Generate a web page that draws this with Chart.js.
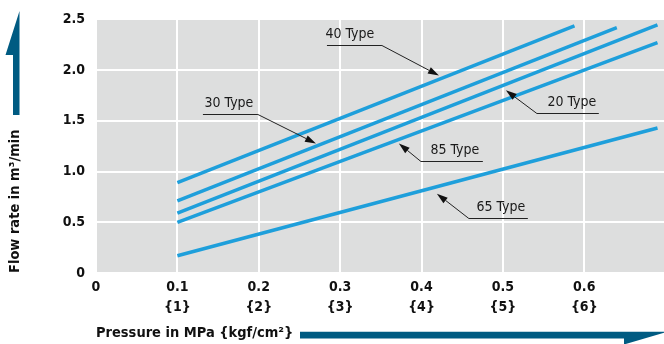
<!DOCTYPE html>
<html>
<head>
<meta charset="utf-8">
<script src="https://cdn.jsdelivr.net/npm/chart.js@4/dist/chart.umd.min.js"></script>
<style>
  html, body { margin: 0; padding: 0; background: #ffffff; }
  #wrap { width: 664px; height: 344px; }
</style>
</head>
<body>
<div id="wrap"><canvas id="c" width="664" height="344"></canvas></div>
<script>
// ---- data ----
const seriesNames = ['40 Type', '30 Type', '20 Type', '85 Type', '65 Type'];
const type40X = [0.1, 0.588];
const type40Y = [0.89, 2.435];
const type30X = [0.1, 0.640];
const type30Y = [0.71, 2.42];
const type20X = [0.1, 0.690];
const type20Y = [0.59, 2.445];
const type85X = [0.1, 0.690];
const type85Y = [0.50, 2.27];
const type65X = [0.1, 0.690];
const type65Y = [0.17, 1.43];

const xTickValues = [0, 0.1, 0.2, 0.3, 0.4, 0.5, 0.6];
const xTickLabels = [['0'], ['0.1', '{1}'], ['0.2', '{2}'], ['0.3', '{3}'], ['0.4', '{4}'], ['0.5', '{5}'], ['0.6', '{6}']];
const yTickLabels = ['0', '0.5', '1.0', '1.5', '2.0', '2.5'];

// callout annotations (data coordinates)
const calloutText   = ['40 Type', '30 Type', '20 Type', '85 Type', '65 Type'];
const calloutTextX  = [0.312, 0.1634, 0.5848, 0.441, 0.4975];
const calloutLineX1 = [0.2838, 0.1314, 0.5418, 0.3993, 0.4582];
const calloutLineX2 = [0.3514, 0.1990, 0.6179, 0.4754, 0.5307];
const calloutLineY  = [2.2476, 1.568, 1.578, 1.102, 0.539];
const calloutStartX = [0.3514, 0.1990, 0.5418, 0.3993, 0.4582];
const calloutTipX   = [0.4214, 0.2703, 0.5037, 0.3722, 0.4189];
const calloutTipY   = [1.9466, 1.277, 1.801, 1.277, 0.782];

const xTitle = 'Pressure in MPa {kgf/cm\u00B2}';
const yTitle = 'Flow rate in m\u00B3/min';

// ---- styles ----
const LINE_COLOR = '#1e9fdb';
const PLOT_BG = '#dddede';
const ARROW_COLOR = '#005b82';
const FONT = '"DejaVu Sans Condensed", "Liberation Sans", sans-serif';

function pts(xs, ys) { return xs.map((x, i) => ({ x: x, y: ys[i] })); }
const allX = [type40X, type30X, type20X, type85X, type65X];
const allY = [type40Y, type30Y, type20Y, type85Y, type65Y];

const datasets = seriesNames.map((n, i) => ({
  label: n,
  data: pts(allX[i], allY[i]),
  borderColor: LINE_COLOR,
  backgroundColor: LINE_COLOR,
  borderWidth: 3.5,
  pointRadius: 0,
  tension: 0,
  fill: false,
  borderCapStyle: 'butt'
}));

const bgPlugin = {
  id: 'plotBg',
  beforeDraw(chart) {
    const { ctx, chartArea: a } = chart;
    ctx.save();
    ctx.fillStyle = PLOT_BG;
    ctx.fillRect(a.left, a.top, a.right - a.left, a.bottom - a.top);
    ctx.restore();
  }
};

const calloutPlugin = {
  id: 'callouts',
  afterDatasetsDraw(chart) {
    const { ctx } = chart;
    const xs = chart.scales.x, ys = chart.scales.y;
    ctx.save();
    for (let i = 0; i < calloutText.length; i++) {
      const lx1 = xs.getPixelForValue(calloutLineX1[i]);
      const lx2 = xs.getPixelForValue(calloutLineX2[i]);
      const ly = Math.round(ys.getPixelForValue(calloutLineY[i])) + 0.5;
      const sx = xs.getPixelForValue(calloutStartX[i]);
      const tx = xs.getPixelForValue(calloutTipX[i]);
      const ty = ys.getPixelForValue(calloutTipY[i]);
      ctx.strokeStyle = '#222222';
      ctx.lineWidth = 1;
      ctx.beginPath();
      ctx.moveTo(lx1, ly);
      ctx.lineTo(lx2, ly);
      ctx.stroke();
      const ang = Math.atan2(ty - ly, tx - sx);
      const headLen = 11, headW = 3.5;
      const bx = tx - headLen * Math.cos(ang), by = ty - headLen * Math.sin(ang);
      ctx.beginPath();
      ctx.moveTo(sx, ly);
      ctx.lineTo(bx, by);
      ctx.stroke();
      ctx.fillStyle = '#111111';
      ctx.beginPath();
      ctx.moveTo(tx, ty);
      ctx.lineTo(bx + headW * Math.sin(ang), by - headW * Math.cos(ang));
      ctx.lineTo(bx - headW * Math.sin(ang), by + headW * Math.cos(ang));
      ctx.closePath();
      ctx.fill();
      ctx.fillStyle = '#1a1a1a';
      ctx.font = '14px ' + FONT;
      ctx.textAlign = 'center';
      ctx.textBaseline = 'middle';
      ctx.fillText(calloutText[i], xs.getPixelForValue(calloutTextX[i]), ly - 11);
    }
    ctx.restore();
  }
};

const arrowPlugin = {
  id: 'axisArrows',
  afterDraw(chart) {
    const { ctx } = chart;
    ctx.save();
    ctx.fillStyle = ARROW_COLOR;
    // vertical arrow (y axis)
    ctx.beginPath();
    ctx.moveTo(13, 115);
    ctx.lineTo(13, 55);
    ctx.lineTo(5.5, 55);
    ctx.lineTo(19.5, 11);
    ctx.lineTo(19.5, 115);
    ctx.closePath();
    ctx.fill();
    // horizontal arrow (x axis): shaft with a one-sided head
    ctx.beginPath();
    ctx.moveTo(300, 331.7);
    ctx.lineTo(668, 331.7);
    ctx.lineTo(624, 344.5);
    ctx.lineTo(624, 338.4);
    ctx.lineTo(300, 338.4);
    ctx.closePath();
    ctx.fill();
    ctx.restore();
  }
};

new Chart(document.getElementById('c'), {
  type: 'line',
  data: { datasets: datasets },
  options: {
    responsive: false,
    animation: false,
    layout: { padding: { top: 15, right: 0, left: 0, bottom: 0 } },
    plugins: { legend: { display: false }, tooltip: { enabled: false } },
    scales: {
      x: {
        type: 'linear',
        min: 0,
        max: 0.698,
        afterBuildTicks(scale) { scale.ticks = xTickValues.map(v => ({ value: v })); },
        afterFit(scale) { scale.height = 71; },
        border: { display: false },
        grid: { color: '#ffffff', lineWidth: 2, drawTicks: false },
        ticks: {
          padding: 4,
          color: '#111111',
          maxRotation: 0,
          autoSkip: false,
          font: { family: FONT, size: 14, weight: 'bold', lineHeight: 1.45 },
          callback(value, index) { return xTickLabels[index]; }
        },
        title: {
          display: true,
          text: xTitle,
          align: 'start',
          color: '#111111',
          font: { family: FONT, size: 14.5, weight: 'bold', lineHeight: 1.2 },
          padding: { top: 0, bottom: 2 }
        }
      },
      y: {
        type: 'linear',
        min: 0,
        max: 2.5,
        afterBuildTicks(scale) { scale.ticks = yTickLabels.map((t, i) => ({ value: i * 0.5 })); },
        afterFit(scale) { scale.width = 96; },
        border: { display: false },
        grid: { color: '#ffffff', lineWidth: 2, drawTicks: false },
        ticks: {
          padding: 11,
          color: '#111111',
          font: { family: FONT, size: 14, weight: 'bold' },
          callback(value, index) { return yTickLabels[index]; }
        },
        title: {
          display: true,
          text: yTitle,
          align: 'start',
          color: '#111111',
          font: { family: FONT, size: 14.5, weight: 'bold', lineHeight: 1.2 },
          padding: { top: 7, bottom: 0 }
        }
      }
    }
  },
  plugins: [bgPlugin, calloutPlugin, arrowPlugin]
});
</script>
</body>
</html>
